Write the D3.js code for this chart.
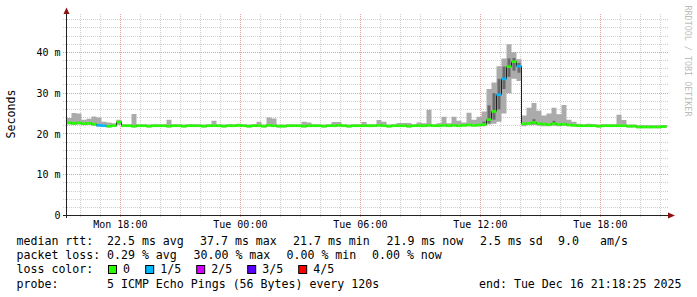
<!DOCTYPE html>
<html>
<head>
<meta charset="utf-8">
<script src="https://cdn.jsdelivr.net/npm/d3@7"></script>
<style>
  body { margin: 0; background: #fff; }
  svg { display: block; }
  text { font-family: "DejaVu Sans Mono", monospace; fill: #000; }
</style>
</head>
<body>
<script>
// 30h window, one step = 15 min
const startTime = Date.UTC(2025, 11, 15, 15, 18, 25);
const endTime = Date.UTC(2025, 11, 16, 21, 18, 25);
const stepMinutes = 15;

// median rtt per step (ms)
const median = [
  22.7,22.6,22.7,22.5,22.6,22.4,22.1,22.0,21.9,22.0,
  22.9,22.0,22.0,21.9,22.0,22.0,21.9,22.0,22.0,22.0,
  21.9,22.0,22.0,21.9,22.0,22.0,22.0,21.9,22.0,22.0,
  22.0,21.9,22.0,22.0,22.1,22.0,21.9,22.0,22.0,21.9,
  22.1,22.0,21.9,21.9,22.0,22.0,22.0,21.9,22.0,22.0,
  22.0,21.9,22.0,22.0,22.1,22.0,21.9,22.0,22.0,22.0,
  22.0,22.0,22.1,22.0,21.9,22.0,22.0,22.0,21.9,22.0,
  22.0,22.0,22.1,22.0,22.0,22.1,22.0,22.1,22.0,22.1,
  22.2,22.1,22.2,22.3,23.5,25.5,29.6,33.5,36.5,37.7,
  36.6,22.5,22.6,22.8,22.5,22.4,22.3,22.5,22.3,22.4,
  22.2,22.1,22.0,22.0,22.0,22.0,21.9,22.0,22.0,22.0,
  22.0,22.0,21.9,21.9,21.7,21.7,21.7,21.7,21.7,21.8
];

// slowest ping per step (ms)
const smokeHi = [
  23.9,25.1,25.0,23.5,23.7,24.3,24.0,23.0,22.8,22.6,
  23.5,22.4,22.4,24.9,22.4,22.4,22.3,22.4,22.4,22.4,
  23.5,22.4,22.4,22.3,22.4,22.4,22.4,22.3,22.4,23.2,
  22.4,22.3,22.4,22.4,22.5,22.4,22.3,22.4,23.0,22.3,
  24.0,23.8,22.3,22.3,22.4,22.4,22.4,23.0,22.8,22.4,
  22.4,22.3,22.4,22.9,22.9,22.4,22.3,22.4,22.4,22.9,
  22.4,22.4,23.4,23.0,22.3,22.4,22.7,22.7,22.7,22.4,
  22.8,22.6,25.9,22.4,22.6,24.2,22.6,24.2,23.2,22.8,
  25.2,23.5,24.2,25.5,31.0,32.6,36.6,38.5,42.0,40.0,
  38.3,24.5,26.4,27.6,25.7,24.5,25.0,26.4,24.8,27.1,
  23.5,23.0,22.5,22.4,22.5,22.4,22.3,22.4,22.4,22.4,
  24.7,23.4,22.3,22.3,22.1,22.1,22.1,22.1,22.1,22.2
];

// fastest ping per step (ms)
const smokeLo = [
  22.3,22.2,22.3,22.1,22.2,22.0,21.8,21.7,21.6,21.7,
  22.2,21.7,21.7,21.6,21.7,21.7,21.6,21.7,21.7,21.7,
  21.6,21.7,21.7,21.6,21.7,21.7,21.7,21.6,21.7,21.7,
  21.7,21.6,21.7,21.7,21.8,21.7,21.6,21.7,21.7,21.6,
  21.8,21.7,21.6,21.6,21.7,21.7,21.7,21.6,21.7,21.7,
  21.7,21.6,21.7,21.7,21.8,21.7,21.6,21.7,21.7,21.7,
  21.7,21.7,21.8,21.7,21.6,21.7,21.7,21.7,21.6,21.7,
  21.7,21.7,21.8,21.7,21.7,21.8,21.7,21.8,21.7,21.8,
  21.9,21.8,21.8,21.9,22.3,22.5,23.0,25.0,30.0,33.5,
  33.0,21.9,22.1,22.2,22.0,21.9,21.9,22.0,21.9,22.0,
  21.9,21.8,21.7,21.7,21.7,21.7,21.6,21.7,21.7,21.7,
  21.7,21.7,21.6,21.6,21.4,21.4,21.4,21.4,21.4,21.5
];

// denser middle pings, only where it shows
const darkSteps = [83, 84, 85, 86, 87, 88, 89, 90, 93, 97];
const darkLo    = [22.0, 22.6, 23.5, 26.0, 31.0, 34.0, 35.5, 35.0, 22.4, 22.3];
const darkHi    = [23.0, 27.0, 30.0, 33.5, 36.5, 38.5, 38.6, 37.4, 23.6, 23.2];

// steps with lost pings (out of 5)
const lossSteps = [6, 7, 86, 87, 90];
const lossCount = [1, 1, 1, 1, 1];

const lossLabels = ["0", "1/5", "2/5", "3/5", "4/5"];
const lossColors = ["#26ff00", "#00b8ff", "#d400ff", "#5a00ff", "#ff0000"];

const yTickValues = [0, 10, 20, 30, 40];

const legendRows = [
  [["median rtt:", 16.5], ["22.5 ms avg", 107], ["37.7 ms max", 200], ["21.7 ms min", 293],
   ["21.9 ms now", 386.5], ["2.5 ms sd", 480], ["9.0", 558], ["am/s", 600]],
  [["packet loss:", 16.5], ["0.29 % avg", 107], ["30.00 % max", 193.5], ["0.00 % min", 286.5],
   ["0.00 % now", 372]],
  [["loss color:", 16.5]],
  [["probe:", 16.5], ["5 ICMP Echo Pings (56 Bytes) every 120s", 107], ["end: Tue Dec 16 21:18:25 2025", 479]]
];

const width = 697, height = 297;

const svg = d3.select("body").append("svg")
    .attr("width", width)
    .attr("height", height);

svg.append("rect").attr("width", width).attr("height", height).attr("fill", "#fff");

const x = d3.scaleUtc().domain([startTime, endTime]).range([66.5, 666.5]);
const y = d3.scaleLinear().domain([0, 49.4]).range([215.5, 14]);

const crisp = v => Math.round(v - 0.5) + 0.5;
const stepDate = i => new Date(startTime + i * stepMinutes * 60000);

// grid
const grid = svg.append("g").attr("stroke-width", 1).attr("stroke-dasharray", "1,1");

const minorY = d3.range(2, 49, 2).filter(v => v % 10 !== 0);
grid.selectAll(".hminor").data(minorY).join("line")
    .attr("x1", 63).attr("x2", 668)
    .attr("y1", d => crisp(y(d))).attr("y2", d => crisp(y(d)))
    .attr("stroke", "#cfcfcf");

const hours = d3.utcHour.range(new Date(startTime), new Date(endTime));
grid.selectAll(".vminor").data(hours.filter(d => d.getUTCHours() % 6 !== 0)).join("line")
    .attr("x1", d => crisp(x(d))).attr("x2", d => crisp(x(d)))
    .attr("y1", 14).attr("y2", 217)
    .attr("stroke", "#cfcfcf");

grid.selectAll(".hmajor").data(yTickValues.filter(v => v > 0)).join("line")
    .attr("x1", 63).attr("x2", 668)
    .attr("y1", d => crisp(y(d))).attr("y2", d => crisp(y(d)))
    .attr("stroke", "#e3a0a0");

const majorHours = hours.filter(d => d.getUTCHours() % 6 === 0);
grid.selectAll(".vmajor").data(majorHours).join("line")
    .attr("x1", d => crisp(x(d))).attr("x2", d => crisp(x(d)))
    .attr("y1", 14).attr("y2", 218)
    .attr("stroke", "#e3a0a0");

// smoke
const idx = d3.range(median.length + 1);
const at = (arr, i) => arr[Math.min(i, arr.length - 1)];

svg.append("path")
    .datum(idx)
    .attr("fill", "#ababab")
    .attr("d", d3.area()
      .curve(d3.curveStepAfter)
      .x(i => x(stepDate(i)))
      .y0(i => y(at(smokeLo, i)))
      .y1(i => y(at(smokeHi, i))));

svg.append("g").selectAll("rect").data(darkSteps).join("rect")
    .attr("x", s => x(stepDate(s)) + 1)
    .attr("width", s => x(stepDate(s + 1)) - x(stepDate(s)) - 2)
    .attr("y", (s, k) => y(darkHi[k]))
    .attr("height", (s, k) => y(darkLo[k]) - y(darkHi[k]))
    .attr("fill", "#6a6a6a");

// median: thin dark step line, coloured by loss on top
svg.append("path")
    .datum(idx)
    .attr("fill", "none")
    .attr("stroke", "#202020")
    .attr("stroke-width", 1)
    .attr("d", d3.line()
      .curve(d3.curveStepAfter)
      .x(i => x(stepDate(i)))
      .y(i => y(at(median, i))));

const lossOf = i => {
  const k = lossSteps.indexOf(i);
  return k < 0 ? 0 : lossCount[k];
};

svg.append("g").selectAll("rect").data(median).join("rect")
    .attr("x", (d, i) => x(stepDate(i)))
    .attr("width", (d, i) => x(stepDate(i + 1)) - x(stepDate(i)))
    .attr("y", d => y(d) - 1.3)
    .attr("height", 2.6)
    .attr("fill", (d, i) => lossColors[lossOf(i)]);

// axes
svg.append("line")
    .attr("x1", 63).attr("x2", 669)
    .attr("y1", 215.5).attr("y2", 215.5)
    .attr("stroke", "#222");
svg.append("line")
    .attr("x1", 66.5).attr("x2", 66.5)
    .attr("y1", 218).attr("y2", 12)
    .attr("stroke", "#222");
svg.append("path")
    .attr("d", "M668,212.5L675,215.5L668,218.5Z")
    .attr("fill", "#8e1010");
svg.append("path")
    .attr("d", "M63.5,14L66.5,7.5L69.5,14Z")
    .attr("fill", "#8e1010");

// tick labels
svg.append("g").selectAll("text").data(yTickValues).join("text")
    .attr("x", 60.5)
    .attr("y", d => y(d))
    .attr("dy", "0.36em")
    .attr("text-anchor", "end")
    .attr("font-size", 10)
    .text(d => d === 0 ? "0" : d + " m");

const fmt = d3.utcFormat("%a %H:%M");
svg.append("g").selectAll("text").data(majorHours).join("text")
    .attr("x", d => x(d))
    .attr("y", 227.5)
    .attr("text-anchor", "middle")
    .attr("font-size", 10)
    .text(fmt);

svg.append("text")
    .attr("transform", "translate(14.5,114) rotate(-90)")
    .attr("text-anchor", "middle")
    .attr("font-size", 11.6)
    .text("Seconds");

svg.append("text")
    .attr("transform", "translate(685,61) rotate(90)")
    .attr("text-anchor", "middle")
    .attr("font-size", 8.4)
    .style("fill", "#bdbdbd")
    .text("RRDTOOL / TOBI OETIKER");

// legend
const legend = svg.append("g").attr("font-size", 11.6);
legendRows.forEach((row, r) => {
  row.forEach(([txt, lx]) => {
    legend.append("text")
        .attr("x", lx)
        .attr("y", 245 + r * 14.2)
        .text(txt);
  });
});

let lx = 108;
lossLabels.forEach((lab, k) => {
  legend.append("rect")
      .attr("x", lx + 0.5).attr("y", 265.5)
      .attr("width", 8).attr("height", 8)
      .attr("fill", lossColors[k])
      .attr("stroke", "#000");
  legend.append("text")
      .attr("x", lx + 15)
      .attr("y", 245 + 2 * 14.2)
      .text(lab);
  lx = lx + 15 + lab.length * 6.9 + 15.3;
});
</script>
</body>
</html>
